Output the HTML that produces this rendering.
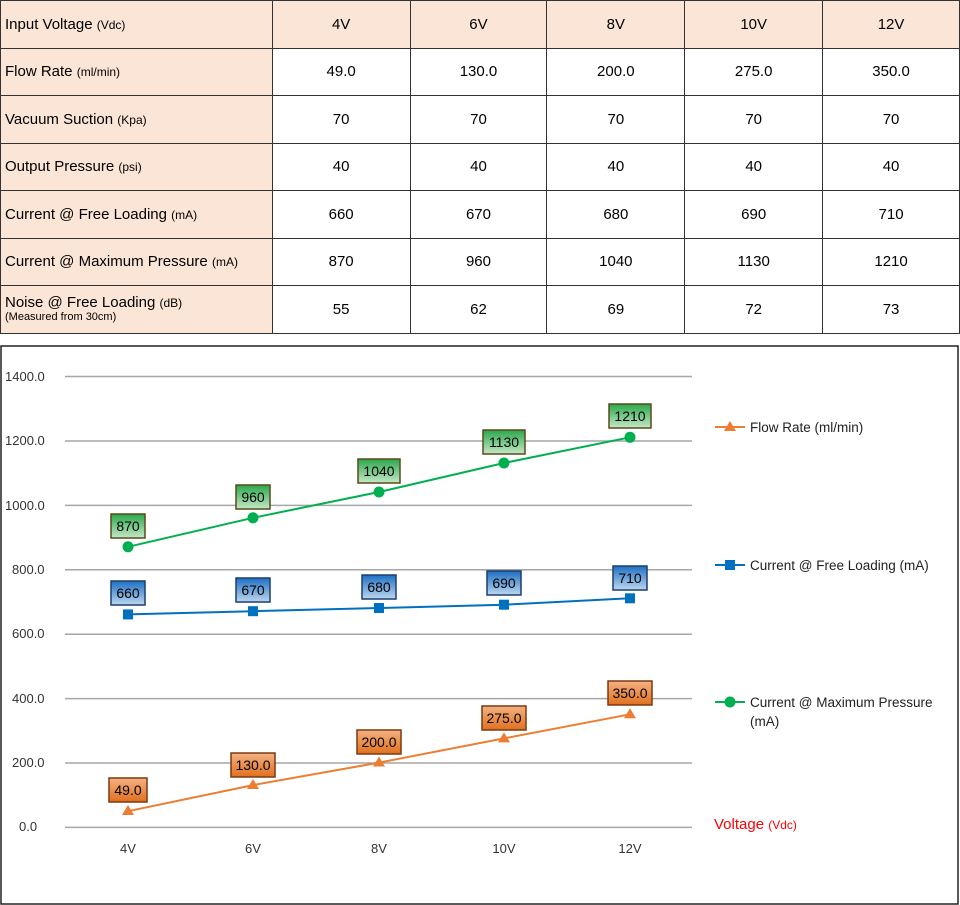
<!DOCTYPE html>
<html><head><meta charset="utf-8"><style>
body{margin:0;background:#fff;width:960px;height:905px;overflow:hidden;font-family:"Liberation Sans",sans-serif}
table{position:absolute;left:0;top:0;border-collapse:collapse;width:960px}
td{border:1.5px solid #333;height:46.5px;text-align:center;font-size:15px;color:#000;padding:0}
td.h{text-align:left;padding-left:4px;background:#fbe5d6}
tr.top td{background:#fbe5d6}
small{font-size:12px}
.sub{font-size:11px;display:block;line-height:12px}
</style></head><body>
<table>
<colgroup><col style="width:272px"><col style="width:138px"><col style="width:137px"><col style="width:138px"><col style="width:138px"><col style="width:137px"></colgroup>
<tr class="top"><td class="h">Input Voltage <small>(Vdc)</small></td><td>4V</td><td>6V</td><td>8V</td><td>10V</td><td>12V</td></tr>
<tr><td class="h">Flow Rate <small>(ml/min)</small></td><td>49.0</td><td>130.0</td><td>200.0</td><td>275.0</td><td>350.0</td></tr>
<tr><td class="h">Vacuum Suction <small>(Kpa)</small></td><td>70</td><td>70</td><td>70</td><td>70</td><td>70</td></tr>
<tr><td class="h">Output Pressure <small>(psi)</small></td><td>40</td><td>40</td><td>40</td><td>40</td><td>40</td></tr>
<tr><td class="h">Current @ Free Loading <small>(mA)</small></td><td>660</td><td>670</td><td>680</td><td>690</td><td>710</td></tr>
<tr><td class="h">Current @ Maximum Pressure <small>(mA)</small></td><td>870</td><td>960</td><td>1040</td><td>1130</td><td>1210</td></tr>
<tr><td class="h" style="line-height:15px">Noise @ Free Loading <small>(dB)</small><span class="sub">(Measured from 30cm)</span></td><td>55</td><td>62</td><td>69</td><td>72</td><td>73</td></tr>
</table>
<svg width="960" height="905" style="position:absolute;left:0;top:0" font-family="Liberation Sans, sans-serif">
<defs>
<linearGradient id="go" x1="0" y1="0" x2="0" y2="1"><stop offset="0" stop-color="#f4b183"/><stop offset="1" stop-color="#e0701e"/></linearGradient>
<linearGradient id="gb" x1="0" y1="0" x2="0" y2="1"><stop offset="0" stop-color="#1f6fc4"/><stop offset="1" stop-color="#bdd7ee"/></linearGradient>
<linearGradient id="gg" x1="0" y1="0" x2="0" y2="1"><stop offset="0" stop-color="#2aa84a"/><stop offset="1" stop-color="#c5e8c8"/></linearGradient>
</defs>
<rect x="1" y="346" width="957" height="558" fill="#fff" stroke="#222" stroke-width="1.5"/>
<g stroke="#a6a6a6" stroke-width="1.5">
<line x1="65" x2="692" y1="376.5" y2="376.5"/><line x1="65" x2="692" y1="441" y2="441"/><line x1="65" x2="692" y1="505.4" y2="505.4"/><line x1="65" x2="692" y1="569.8" y2="569.8"/><line x1="65" x2="692" y1="634.2" y2="634.2"/><line x1="65" x2="692" y1="698.6" y2="698.6"/><line x1="65" x2="692" y1="763" y2="763"/><line x1="65" x2="692" y1="827.4" y2="827.4"/>
</g>
<g font-size="13" fill="#333">
<text x="5" y="381">1400.0</text><text x="5" y="445">1200.0</text><text x="5" y="510">1000.0</text><text x="12" y="574">800.0</text><text x="12" y="638">600.0</text><text x="12" y="703">400.0</text><text x="12" y="767">200.0</text><text x="19" y="831">0.0</text>
</g>
<g font-size="13" fill="#333" text-anchor="middle">
<text x="128" y="853">4V</text><text x="253" y="853">6V</text><text x="379" y="853">8V</text><text x="504" y="853">10V</text><text x="630" y="853">12V</text>
</g>
<polyline fill="none" stroke="#ed7d31" stroke-width="2" points="128,811.2 253,785.1 379,762.6 504,738.4 630,714.3"/>
<polyline fill="none" stroke="#0070c0" stroke-width="2" points="128,614.4 253,611.2 379,608 504,604.7 630,598.3"/>
<polyline fill="none" stroke="#00b050" stroke-width="2" points="128,546.8 253,517.8 379,492 504,463 630,437.3"/>
<g fill="#ed7d31"><path d="M128,805 l6,10 h-12z"/><path d="M253,779 l6,10 h-12z"/><path d="M379,756.5 l6,10 h-12z"/><path d="M504,732.4 l6,10 h-12z"/><path d="M630,708.3 l6,10 h-12z"/></g>
<g fill="#0070c0"><rect x="123" y="609.4" width="10" height="10"/><rect x="248" y="606.2" width="10" height="10"/><rect x="374" y="603" width="10" height="10"/><rect x="499" y="599.7" width="10" height="10"/><rect x="625" y="593.3" width="10" height="10"/></g>
<g fill="#00b050"><circle cx="128" cy="546.8" r="5.5"/><circle cx="253" cy="517.8" r="5.5"/><circle cx="379" cy="492" r="5.5"/><circle cx="504" cy="463" r="5.5"/><circle cx="630" cy="437.3" r="5.5"/></g>
<g font-size="14" text-anchor="middle" fill="#000">
<g stroke="#5a4a1a" stroke-width="1.5" fill="url(#gg)">
<rect x="111" y="514" width="34" height="24"/><rect x="236" y="485" width="34" height="24"/><rect x="358" y="459" width="42" height="24"/><rect x="483" y="430" width="42" height="24"/><rect x="609" y="404" width="42" height="24"/></g>
<text x="128" y="531">870</text><text x="253" y="502">960</text><text x="379" y="476">1040</text><text x="504" y="447">1130</text><text x="630" y="421">1210</text>
<g stroke="#1c3f6e" stroke-width="1.5" fill="url(#gb)">
<rect x="111" y="581" width="34" height="24"/><rect x="236" y="578" width="34" height="24"/><rect x="362" y="575" width="34" height="24"/><rect x="487" y="571" width="34" height="24"/><rect x="613" y="566" width="34" height="24"/></g>
<text x="128" y="598">660</text><text x="253" y="595">670</text><text x="379" y="592">680</text><text x="504" y="588">690</text><text x="630" y="583">710</text>
<g stroke="#7a3a10" stroke-width="1.5" fill="url(#go)">
<rect x="109" y="778" width="38" height="24"/><rect x="231" y="753" width="44" height="24"/><rect x="357" y="730" width="44" height="24"/><rect x="482" y="706" width="44" height="24"/><rect x="608" y="681" width="44" height="24"/></g>
<text x="128" y="795">49.0</text><text x="253" y="770">130.0</text><text x="379" y="747">200.0</text><text x="504" y="723">275.0</text><text x="630" y="698">350.0</text>
</g>
<g font-size="13.5" fill="#222">
<line x1="715" x2="745" y1="427" y2="427" stroke="#ed7d31" stroke-width="2"/><path d="M730,421 l6,10 h-12z" fill="#ed7d31"/>
<text x="750" y="432">Flow Rate (ml/min)</text>
<line x1="715" x2="745" y1="565" y2="565" stroke="#0070c0" stroke-width="2"/><rect x="725" y="560" width="10" height="10" fill="#0070c0"/>
<text x="750" y="570">Current @ Free Loading (mA)</text>
<line x1="715" x2="745" y1="702" y2="702" stroke="#00b050" stroke-width="2"/><circle cx="730" cy="702" r="5.5" fill="#00b050"/>
<text x="750" y="707">Current @ Maximum Pressure</text><text x="750" y="726">(mA)</text>
</g>
<text x="714" y="829" font-size="15" fill="#ff0000">Voltage <tspan font-size="12">(Vdc)</tspan></text>
</svg>
</body></html>
